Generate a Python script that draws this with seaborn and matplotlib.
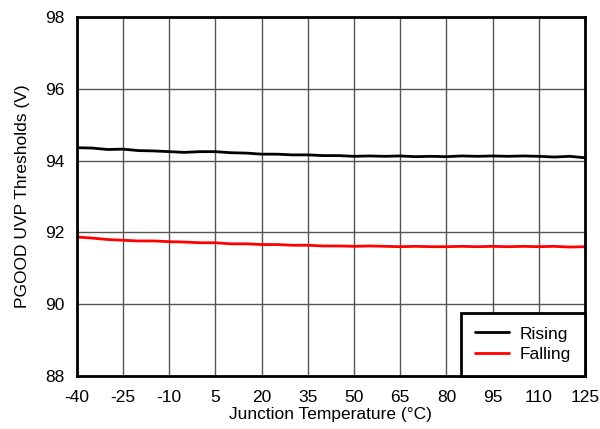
import matplotlib
matplotlib.use("Agg")
import matplotlib.pyplot as plt
import seaborn as sns
import pandas as pd

temps = [-40, -35, -30, -25, -20, -15, -10, -5, 0, 5, 10, 15, 20, 25, 30, 35, 40, 45, 50, 55,
         60, 65, 70, 75, 80, 85, 90, 95, 100, 105, 110, 115, 120, 125]
rising = [94.36, 94.35, 94.31, 94.32, 94.28, 94.27, 94.25, 94.23, 94.25, 94.25, 94.22, 94.21,
          94.18, 94.18, 94.16, 94.16, 94.14, 94.14, 94.12, 94.13, 94.12, 94.13, 94.11, 94.12,
          94.11, 94.13, 94.12, 94.13, 94.12, 94.13, 94.12, 94.10, 94.12, 94.08]
falling = [91.87, 91.84, 91.80, 91.78, 91.76, 91.76, 91.74, 91.73, 91.71, 91.71, 91.68, 91.68,
           91.66, 91.66, 91.64, 91.64, 91.62, 91.62, 91.61, 91.62, 91.61, 91.60, 91.61, 91.60,
           91.60, 91.61, 91.60, 91.61, 91.60, 91.61, 91.60, 91.61, 91.59, 91.60]
xticks = [-40, -25, -10, 5, 20, 35, 50, 65, 80, 95, 110, 125]
yticks = [88, 90, 92, 94, 96, 98]

sns.set_style("white")
plt.rcParams['font.family'] = ['Liberation Sans', 'DejaVu Sans']
plt.rcParams['axes.unicode_minus'] = False
plt.rcParams['text.color'] = 'black'
plt.rcParams['axes.labelcolor'] = 'black'
plt.rcParams['xtick.color'] = 'black'
plt.rcParams['ytick.color'] = 'black'

df = pd.DataFrame({
    "T": temps * 2,
    "V": rising + falling,
    "series": ["Rising"] * len(temps) + ["Falling"] * len(temps),
})

fig = plt.figure(figsize=(6, 4.29), dpi=100)
ax = fig.add_axes([0.128, 0.124, 0.847, 0.836])
sns.lineplot(data=df, x="T", y="V", hue="series", palette={"Rising": "black", "Falling": "#ff0000"},
             linewidth=2, ax=ax)
ax.set_xlim(-40, 125)
ax.set_ylim(88, 98)
ax.set_xticks(xticks)
ax.set_yticks(yticks)
ax.grid(True, color="#555555", linewidth=1)
ax.tick_params(length=0, labelsize=12.5)
ax.tick_params(axis="x", pad=10)
ax.tick_params(axis="y", pad=9)
for s in ax.spines.values():
    s.set_linewidth(2)
    s.set_color("black")
ax.set_xlabel("Junction Temperature (°C)", fontsize=12.5, labelpad=2)
ax.set_ylabel("PGOOD UVP Thresholds (V)", fontsize=12.5, labelpad=11)
leg = ax.legend(loc="lower right", fontsize=12.5, frameon=True, fancybox=False,
                borderaxespad=0, handlelength=2.0, borderpad=0.8, labelspacing=0.3,
                handletextpad=0.6)
leg.get_frame().set_edgecolor("black")
leg.get_frame().set_linewidth(2)
leg.get_frame().set_alpha(1)
leg.set_title(None)
fig.savefig("out.png", dpi=100)
